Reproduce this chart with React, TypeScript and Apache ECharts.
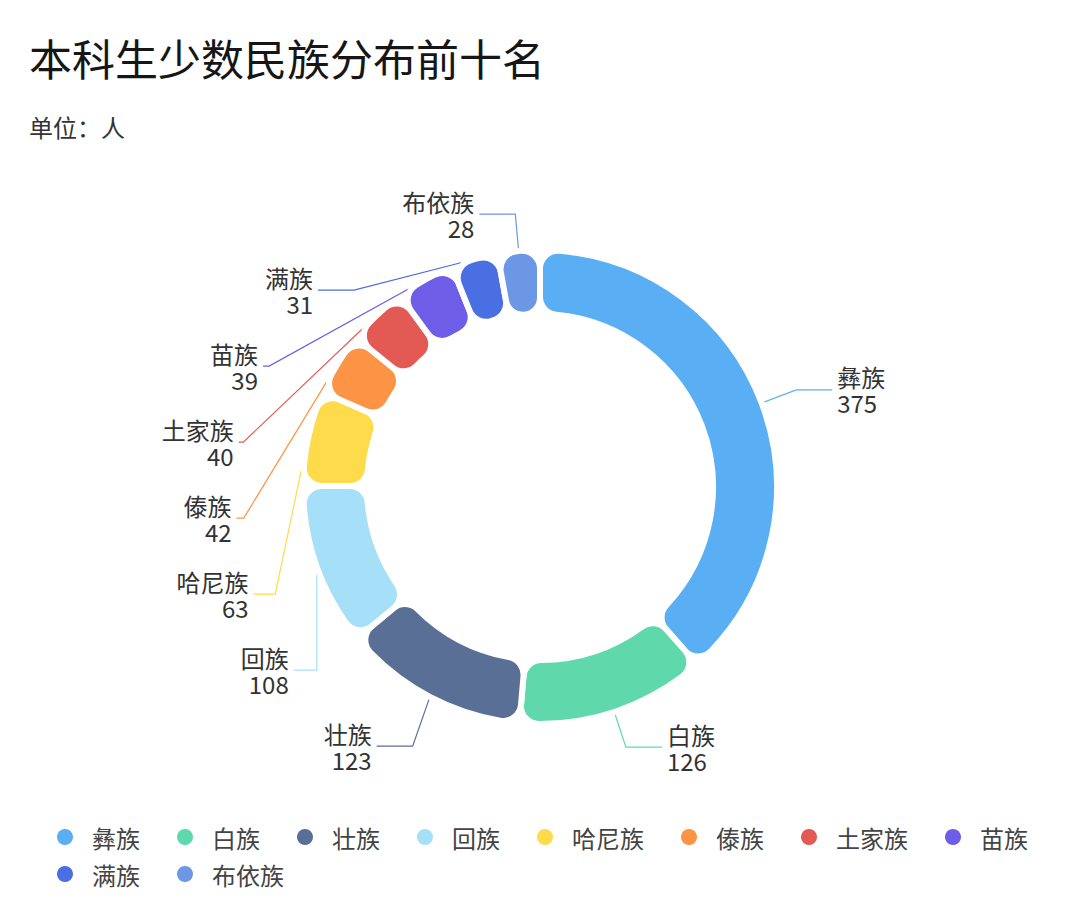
import React, { useEffect, useRef } from 'react';
import * as echarts from 'echarts';

const categories = ['彝族', '白族', '壮族', '回族', '哈尼族', '傣族', '土家族', '苗族', '满族', '布依族'];
const values = [375, 126, 123, 108, 63, 42, 40, 39, 31, 28];
const colors = ['#59AEF4', '#5FD9AC', '#5A6F96', '#A6DFF8', '#FDDB4B', '#FD9445', '#E35A54', '#6E5DE6', '#4A6FE3', '#6C97E5'];
const titleText = '本科生少数民族分布前十名';
const unitText = '单位：人';
const legendRow1 = categories.slice(0, 8);
const legendRow2 = categories.slice(8);

const fontFamily = '"Noto Sans CJK SC", "Noto Sans", sans-serif';

export default function App() {
  const ref = useRef<HTMLDivElement>(null);
  useEffect(() => {
    const chart = echarts.init(ref.current!, null, { renderer: 'svg' });
    const data = categories.map((name, i) => ({ name, value: values[i] }));
    const legendBase = {
      left: 52,
      right: 8,
      padding: 5,
      itemGap: 19,
      itemWidth: 30,
      itemHeight: 16,
      icon: 'circle',
      itemStyle: { borderWidth: 0 },
      textStyle: { fontSize: 24, lineHeight: 18, color: '#444444', padding: [0, 18, 0, 7], fontFamily },
    };
    chart.setOption({
      animation: false,
      color: colors,
      textStyle: { fontFamily },
      title: {
        text: titleText,
        subtext: unitText,
        left: 29,
        top: 31,
        padding: 0,
        itemGap: 28,
        textStyle: { fontSize: 43, fontWeight: 'normal', color: '#161616', lineHeight: 52, fontFamily },
        subtextStyle: { fontSize: 24, color: '#333333', lineHeight: 30, fontFamily },
      },
      legend: [
        { ...legendBase, top: 820, data: legendRow1 },
        { ...legendBase, top: 857, data: legendRow2 },
      ],
      series: [
        {
          type: 'pie',
          left: 0,
          right: 0,
          top: 0,
          bottom: 60,
          center: [540, 487],
          radius: [173, 237],
          startAngle: 90,
          clockwise: true,
          avoidLabelOverlap: true,
          itemStyle: { borderRadius: 18, borderColor: '#ffffff', borderWidth: 6 },
          label: {
            show: true,
            formatter: '{b}\n{c}',
            fontSize: 24,
            lineHeight: 26,
            color: '#333333',
            padding: [11, 0, 11, 0],
            backgroundColor: 'rgba(255,255,255,0)',
            fontFamily,
          },
          labelLine: { show: true, length: 37, length2: 36, lineStyle: { width: 1.2 } },
          emphasis: { disabled: true },
          data,
        },
      ],
    });
    return () => chart.dispose();
  }, []);
  return <div ref={ref} style={{ position: 'absolute', left: 0, top: 0, width: 1080, height: 918 }} />;
}
